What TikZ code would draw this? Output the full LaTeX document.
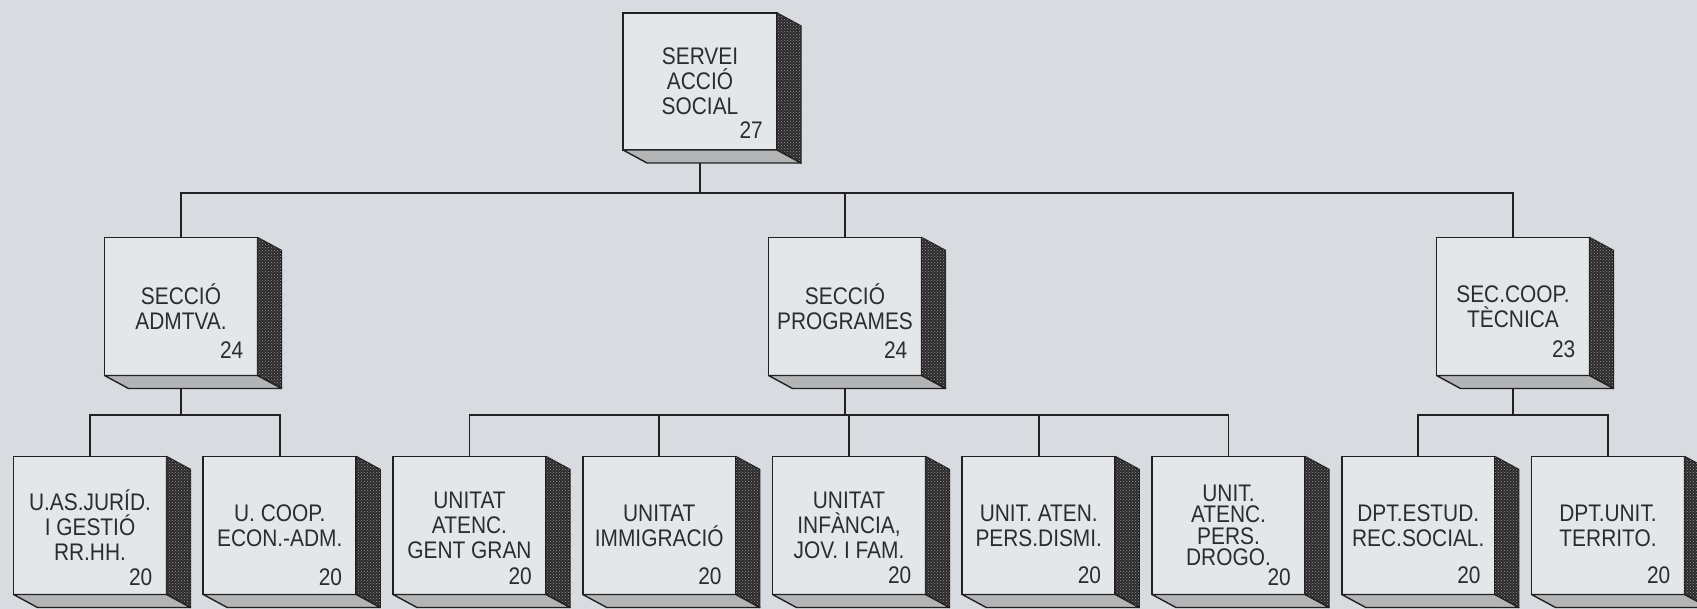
\documentclass[tikz,border=0pt]{standalone}
\usepackage{fontspec}
\setmainfont[FakeStretch=0.87]{Liberation Sans}
\usepackage{xcolor}
\usepackage{tikz}
\usetikzlibrary{positioning,calc,patterns}

\definecolor{paper}{RGB}{216,220,224}
\definecolor{facecol}{RGB}{228,231,233}
\definecolor{linecol}{RGB}{34,32,32}
\definecolor{textcol}{RGB}{44,44,44}
\definecolor{sidecol}{RGB}{44,42,42}
\definecolor{speck}{RGB}{150,150,150}
\definecolor{floorcol}{RGB}{178,180,182}

\begin{document}
\begin{tikzpicture}[x=1pt, y=1pt, node distance=36.75pt]
    \tikzstyle{block} = [draw=linecol, line width=1.6pt, fill=facecol, rectangle, minimum width=153pt, minimum height=138pt, outer sep=0pt, inner sep=0pt, align=center, text=textcol, font=\fontsize{24}{25}\selectfont]
    \tikzstyle{num} = [anchor=base east, inner sep=0pt, text=textcol, font=\fontsize{24}{25}\selectfont]
    \tikzstyle{link} = [draw=linecol, line width=1.6pt]
    \tikzstyle{side} = [fill=sidecol, draw=linecol, line width=1.4pt, line join=round]
    \tikzstyle{floor} = [fill=floorcol, draw=linecol, line width=1.4pt, line join=round]

    % Page
    \clip (0,0) rectangle (1697,-609);
    \fill[paper] (0,0) rectangle (1697,-609);

    % Nodes
    \node [block, minimum width=154pt, minimum height=137pt] (servei) at (700,-81.5) {SERVEI\\ACCIÓ\\SOCIAL};
    \node [block] (admtva) at (181,-306.5) {SECCIÓ\\ADMTVA.};
    \node [block] (programes) at (845,-306.5) {SECCIÓ\\PROGRAMES};
    \node [block] (tecnica) at (1513,-306.5) {SEC.COOP.\\TÈCNICA};

    \node [block] (juridica) at (90,-525.5) {U.AS.JURÍD.\\I GESTIÓ\\RR.HH.};
    \node [block, right=of juridica] (coop) {U. COOP.\\ECON.-ADM.};
    \node [block, right=of coop] (gentgran) {UNITAT\\ATENC.\\GENT GRAN};
    \node [block, right=of gentgran] (immigracio) {UNITAT\\IMMIGRACIÓ};
    \node [block, right=of immigracio] (infancia) {UNITAT\\INFÀNCIA,\\JOV. I FAM.};
    \node [block, right=of infancia] (dismi) {UNIT. ATEN.\\PERS.DISMI.};
    \node [block, right=of dismi, font=\fontsize{24}{21.5}\selectfont] (drogo) {UNIT.\\ATENC.\\PERS.\\DROGO.};
    \node [block, right=of drogo] (estudis) {DPT.ESTUD.\\REC.SOCIAL.};
    \node [block, right=of estudis] (territori) {DPT.UNIT.\\TERRITO.};

    % Staff numbers
    \foreach \n/\v/\dy in {servei/27/11, admtva/24/17, programes/24/17, tecnica/23/18, juridica/20/9, coop/20/9, gentgran/20/10, immigracio/20/10, infancia/20/11, dismi/20/11, drogo/20/9, estudis/20/11, territori/20/11}
        \node [num] (\n-num) at ($(\n.south east)+(-14,\dy)$) {\v};

    % Paths
    \coordinate [below=43pt of servei] (top-bus);
    \coordinate [below=39.5pt of admtva] (adm-bus);
    \coordinate [below=39.5pt of programes] (prog-bus);
    \coordinate [below=39.5pt of tecnica] (tec-bus);

    \draw [link] (servei.south) -- (top-bus);
    \draw [link] (top-bus) -| (admtva.north);
    \draw [link] (top-bus) -| (programes.north);
    \draw [link] (top-bus) -| (tecnica.north);

    \draw [link] (admtva.south) -- (adm-bus);
    \draw [link] (adm-bus) -| (juridica.north);
    \draw [link] (adm-bus) -| (coop.north);

    \draw [link] (programes.south) -- (prog-bus);
    \draw [link] (prog-bus) -| (gentgran.north);
    \draw [link] (prog-bus) -| (immigracio.north);
    \draw [link] (prog-bus) -| (infancia.north);
    \draw [link] (prog-bus) -| (dismi.north);
    \draw [link] (prog-bus) -| (drogo.north);

    \draw [link] (tecnica.south) -- (tec-bus);
    \draw [link] (tec-bus) -| (estudis.north);
    \draw [link] (tec-bus) -| (territori.north);

    % 3D faces
    \foreach \n in {servei, admtva, programes, tecnica, juridica, coop, gentgran, immigracio, infancia, dismi, drogo, estudis, territori} {
        \filldraw [side] (\n.north east) -- ++(24,-13) -- ($(\n.south east)+(24,-13)$) -- (\n.south east) -- cycle;
        \fill [pattern=crosshatch dots, pattern color=speck] (\n.north east) -- ++(24,-13) -- ($(\n.south east)+(24,-13)$) -- (\n.south east) -- cycle;
        \filldraw [floor] (\n.south west) -- ++(24,-13) -- ($(\n.south east)+(24,-13)$) -- (\n.south east) -- cycle;
    }
\end{tikzpicture}
\end{document}
